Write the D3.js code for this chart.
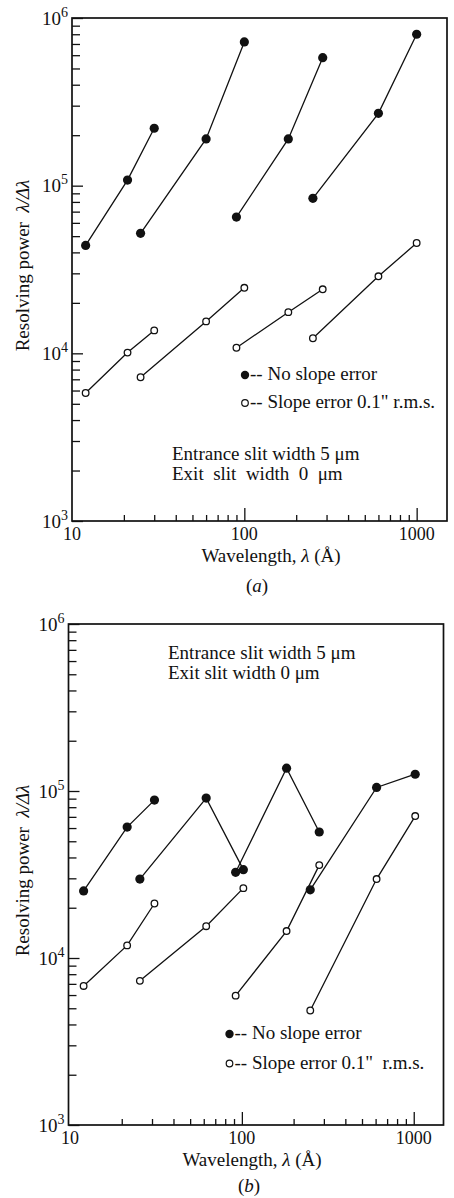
<!DOCTYPE html>
<html>
<head>
<meta charset="utf-8">
<title>resolving power vs wavelength</title>
<style>
  body { margin: 0; background: #fff; }
  svg { display: block; font-family: "Liberation Serif", "Times New Roman", serif; }
  text { fill: #111; white-space: pre; }
</style>
</head>
<body>
<svg id="chart" width="454" height="1198"></svg>
<script src="https://d3js.org/d3.v7.min.js"></script>
<script>
// panel (a): four wavelength groups, 3 points each
var waveA = [[12, 21, 30], [25, 60, 100], [90, 180, 285], [250, 600, 1000]];
var noSlopeA = [[44000, 108000, 220000], [52000, 190000, 720000], [65000, 190000, 580000], [84000, 270000, 800000]];
var slopeA = [[5800, 10100, 13700], [7200, 15500, 24600], [10800, 17600, 24100], [12300, 28800, 45500]];

// panel (b)
var waveB = [[12, 21.5, 31], [25.5, 62, 102], [92, 182, 282], [250, 608, 1020]];
var noSlopeB = [[25200, 60800, 88200], [29700, 90700, 33800], [32600, 137000, 56800], [25600, 105000, 126000]];
var slopeB = [[6800, 11900, 21200], [7300, 15500, 26200], [5950, 14500, 36000], [4850, 29700, 70800]];

var xTickLabels = [10, 100, 1000];
var yExponents = [3, 4, 5, 6];
var legendA = ["-- No slope error", "-- Slope error 0.1\" r.m.s."];
var legendB = ["-- No slope error", "-- Slope error 0.1\"  r.m.s."];
var noteA = ["Entrance slit width 5 \u03bcm", "Exit  slit  width  0  \u03bcm"];
var noteB = ["Entrance slit width 5 \u03bcm", "Exit slit width 0 \u03bcm"];

var svg = d3.select("#chart");

function drawPanel(p) {
  var x = d3.scaleLog().domain(p.xDomain).range([p.left, p.right]);
  var y = d3.scaleLog().domain([1e3, 1e6]).range([p.bottom, p.top]);
  var g = svg.append("g");

  // minor and major ticks, pointing inward
  var xMajor = xTickLabels;
  var xMinor = x.ticks().filter(function(v) { return xMajor.indexOf(v) < 0; });
  var yMajor = yExponents.map(function(e) { return Math.pow(10, e); });
  var yMinor = y.ticks().filter(function(v) { return yMajor.indexOf(v) < 0; });

  g.append("g").attr("transform", "translate(0," + p.bottom + ")")
    .call(d3.axisBottom(x).tickValues(xMinor).tickSize(-6).tickFormat(""));
  g.append("g").attr("transform", "translate(0," + p.bottom + ")")
    .call(d3.axisBottom(x).tickValues(xMajor.slice(1)).tickSize(-13).tickFormat(""));
  g.append("g").attr("transform", "translate(" + p.left + ",0)")
    .call(d3.axisLeft(y).tickValues(yMinor).tickSize(-8).tickFormat(""));
  g.append("g").attr("transform", "translate(" + p.left + ",0)")
    .call(d3.axisLeft(y).tickValues(yMajor).tickSize(-11).tickFormat(""));
  g.selectAll(".domain").remove();
  g.selectAll(".tick line").attr("stroke", "#111").attr("stroke-width", 1.3);

  g.append("rect")
    .attr("x", p.left).attr("y", p.top)
    .attr("width", p.right - p.left).attr("height", p.bottom - p.top)
    .attr("fill", "none").attr("stroke", "#111").attr("stroke-width", 1.7);

  // tick labels
  g.selectAll(".xl").data(xTickLabels).enter().append("text")
    .attr("x", function(d) { return x(d); })
    .attr("y", p.bottom + 19)
    .attr("text-anchor", "middle").attr("font-size", 18)
    .text(function(d) { return d; });

  var yl = g.selectAll(".yl").data(yExponents).enter().append("text")
    .attr("x", p.left - 4)
    .attr("y", function(d) { return y(Math.pow(10, d)) + 6.5; })
    .attr("text-anchor", "end").attr("font-size", 19);
  yl.append("tspan").text("10");
  yl.append("tspan").attr("dy", -8).attr("font-size", 14).text(function(d) { return d; });

  // axis titles
  var yt = g.append("text")
    .attr("transform", "translate(29," + ((p.top + p.bottom) / 2 - 4) + ") rotate(-90)")
    .attr("text-anchor", "middle").attr("font-size", 19);
  yt.append("tspan").text("Resolving power  ");
  yt.append("tspan").attr("font-style", "italic").text("\u03bb/\u0394\u03bb");

  var xt = g.append("text")
    .attr("x", p.titleX).attr("y", p.bottom + 40.5)
    .attr("text-anchor", "middle").attr("font-size", 19);
  xt.append("tspan").text("Wavelength, ");
  xt.append("tspan").attr("font-style", "italic").text("\u03bb");
  xt.append("tspan").text(" (\u00c5)");

  var cap = g.append("text")
    .attr("x", p.capX).attr("y", p.capY)
    .attr("text-anchor", "middle").attr("font-size", 19);
  cap.append("tspan").text("(");
  cap.append("tspan").attr("font-style", "italic").text(p.cap);
  cap.append("tspan").text(")");

  // data lines and markers
  var line = d3.line().x(function(d) { return x(d[0]); }).y(function(d) { return y(d[1]); });
  function pairs(w, v) { return w.map(function(ws, i) { return ws.map(function(xv, j) { return [xv, v[i][j]]; }); }); }
  var filled = pairs(p.wave, p.noSlope);
  var open = pairs(p.wave, p.slope);

  g.selectAll(".lf").data(filled.concat(open)).enter().append("path")
    .attr("d", line).attr("fill", "none").attr("stroke", "#111").attr("stroke-width", 1.3);

  g.selectAll(".pf").data(d3.merge(filled)).enter().append("circle")
    .attr("cx", function(d) { return x(d[0]); }).attr("cy", function(d) { return y(d[1]); })
    .attr("r", 4.6).attr("fill", "#111");
  g.selectAll(".po").data(d3.merge(open)).enter().append("circle")
    .attr("cx", function(d) { return x(d[0]); }).attr("cy", function(d) { return y(d[1]); })
    .attr("r", 3.3).attr("fill", "#fff").attr("stroke", "#111").attr("stroke-width", 1.3);

  // legend
  g.append("circle").attr("cx", p.legX).attr("cy", p.legY).attr("r", 4.2).attr("fill", "#111");
  g.append("circle").attr("cx", p.legX).attr("cy", p.legY + p.legGap).attr("r", 3.3)
    .attr("fill", "#fff").attr("stroke", "#111").attr("stroke-width", 1.2);
  g.selectAll(".lg").data(p.legend).enter().append("text")
    .attr("x", p.legX + 5).attr("y", function(d, i) { return p.legY + 5 + i * p.legGap; })
    .attr("font-size", 19).text(function(d) { return d; });

  // slit note
  g.selectAll(".nt").data(p.note).enter().append("text")
    .attr("x", p.noteX).attr("y", function(d, i) { return p.noteY + i * 20; })
    .attr("font-size", 19).text(function(d) { return d; });
}

drawPanel({
  left: 72, right: 447, top: 18, bottom: 521, xDomain: [10, 1500],
  wave: waveA, noSlope: noSlopeA, slope: slopeA,
  legend: legendA, legX: 245, legY: 375, legGap: 28,
  note: noteA, noteX: 172, noteY: 460,
  titleX: 271, cap: "a", capX: 257, capY: 592
});

drawPanel({
  left: 68.5, right: 443.5, top: 624, bottom: 1125, xDomain: [9.8, 1490],
  wave: waveB, noSlope: noSlopeB, slope: slopeB,
  legend: legendB, legX: 229.5, legY: 1034, legGap: 29.5,
  note: noteB, noteX: 168, noteY: 659,
  titleX: 252, cap: "b", capX: 249, capY: 1192
});
</script>
</body>
</html>
